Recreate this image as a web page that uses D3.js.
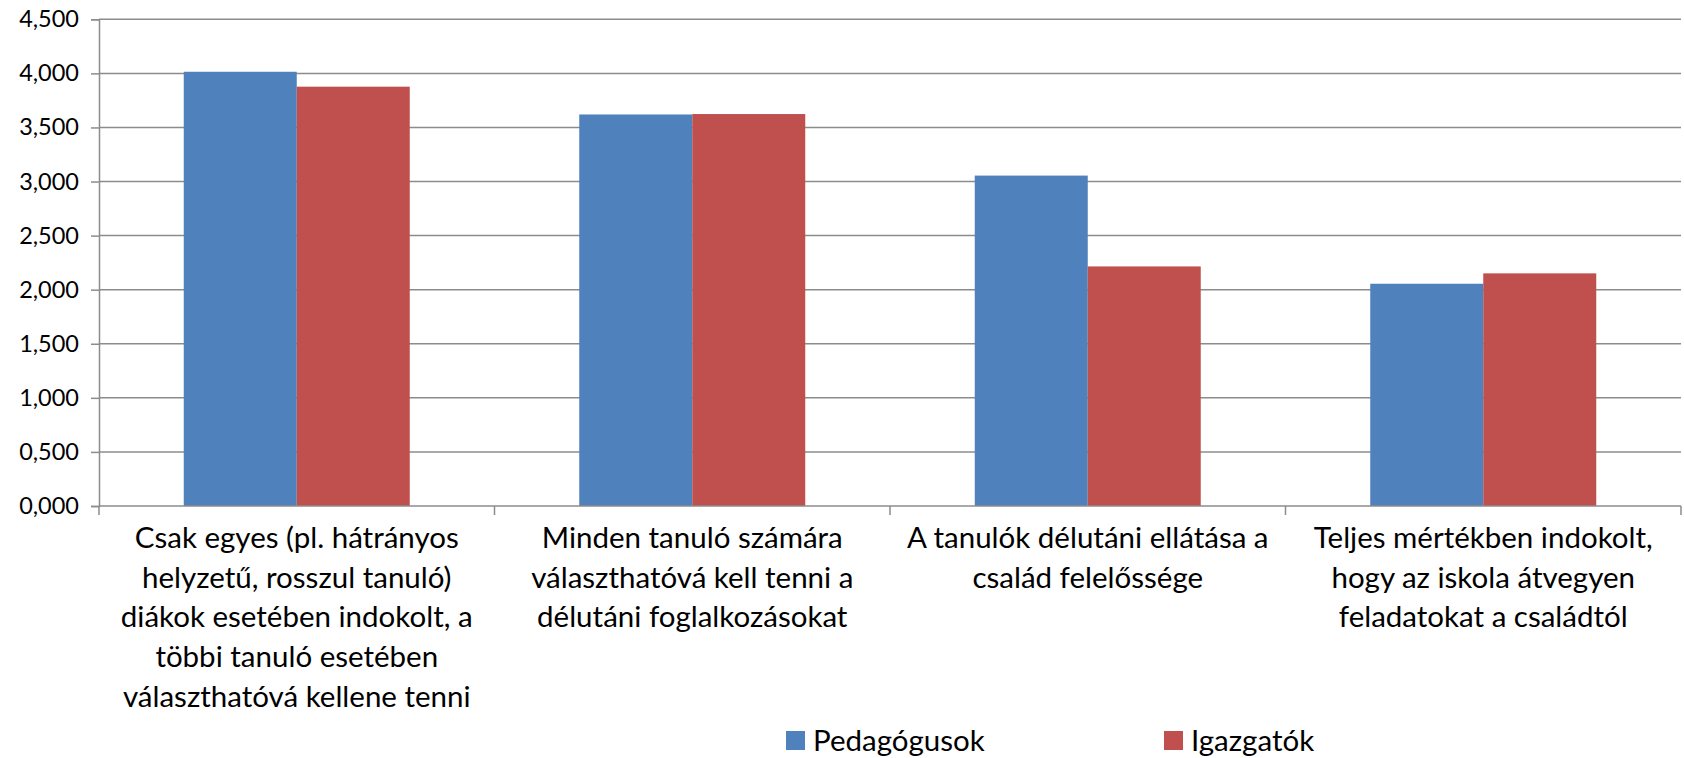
<!DOCTYPE html>
<html><head><meta charset="utf-8">
<script src="https://cdn.jsdelivr.net/npm/d3@7"></script>
<style>body{margin:0;background:#fff}svg{display:block}text{font-family:Lato,"Open Sans",sans-serif;fill:#000}</style>
</head><body>
<svg id="c" width="1684" height="758"></svg>
<script>
const categories = [
  ["Csak egyes (pl. hátrányos","helyzetű, rosszul tanuló)","diákok esetében indokolt, a","többi tanuló esetében","választhatóvá kellene tenni"],
  ["Minden tanuló számára","választhatóvá kell tenni a","délutáni foglalkozásokat"],
  ["A tanulók délutáni ellátása a","család felelőssége"],
  ["Teljes mértékben indokolt,","hogy az iskola átvegyen","feladatokat a családtól"]
];
const seriesNames = ["Pedagógusok","Igazgatók"];
const pedagogusok = [4.015, 3.620, 3.055, 2.055];
const igazgatok = [3.877, 3.624, 2.215, 2.151];
const yTicks = [0,0.5,1,1.5,2,2.5,3,3.5,4,4.5];
const colors = ["#4F81BD","#C0504D"];

const svg = d3.select("#c");
const L=99, R=1681, T=19.3, B=506;
const x = d3.scaleBand().domain(d3.range(categories.length)).range([L,R]).paddingInner(0).paddingOuter(0);
const x1 = d3.scaleBand().domain([0,1]).range([0,x.bandwidth()]).paddingOuter(0.75).paddingInner(0);
const y = d3.scaleLinear().domain([0,4.5]).range([B,T]);
const fmt = v => d3.format(".3f")(v).replace(".",",");

// gridlines
svg.append("g").selectAll("line").data(yTicks.filter(d=>d>0)).join("line")
  .attr("x1",L).attr("x2",R).attr("y1",d=>y(d)).attr("y2",d=>y(d))
  .attr("stroke","#8c8c8c").attr("stroke-width",1.5);

// bars
const data = [pedagogusok, igazgatok];
const g = svg.append("g");
data.forEach((s,si)=>{
  g.selectAll(null).data(s).join("rect")
    .attr("x",(d,i)=>x(i)+x1(si)).attr("width",x1.bandwidth())
    .attr("y",d=>y(d)).attr("height",d=>B-y(d))
    .attr("fill",colors[si]);
});

// y axis
const yAxis = d3.axisLeft(y).tickValues(yTicks).tickFormat(fmt).tickSize(8).tickPadding(12);
const ya = svg.append("g").attr("transform",`translate(${L},0)`).call(yAxis);
ya.select(".domain").attr("stroke","#8c8c8c").attr("stroke-width",1.5);
ya.selectAll(".tick line").attr("stroke","#8c8c8c").attr("stroke-width",1.5);
ya.selectAll(".tick text").attr("font-size",23.5).attr("font-family","Lato").attr("fill","#000");

// x axis
const xa = svg.append("g");
xa.append("line").attr("x1",L).attr("x2",R).attr("y1",B).attr("y2",B).attr("stroke","#8c8c8c").attr("stroke-width",1.5);
const bounds = d3.range(categories.length+1).map(i=> i<categories.length ? x(i) : R);
xa.selectAll("line.t").data(bounds).join("line").attr("class","t")
  .attr("x1",d=>d).attr("x2",d=>d).attr("y1",B).attr("y2",B+9)
  .attr("stroke","#8c8c8c").attr("stroke-width",1.5);

categories.forEach((lines,i)=>{
  const t = xa.append("text").attr("text-anchor","middle").attr("font-size",29.5);
  lines.forEach((ln,j)=>{
    t.append("tspan").attr("x",x(i)+x.bandwidth()/2).attr("y",548+j*39.7).text(ln);
  });
});

// legend
const leg = svg.append("g");
const legX = [786, 1164];
seriesNames.forEach((n,i)=>{
  leg.append("rect").attr("x",legX[i]).attr("y",731).attr("width",19).attr("height",19).attr("fill",colors[i]);
  leg.append("text").attr("x",legX[i]+27).attr("y",751).attr("font-size",29.5).text(n);
});
</script>
</body></html>
